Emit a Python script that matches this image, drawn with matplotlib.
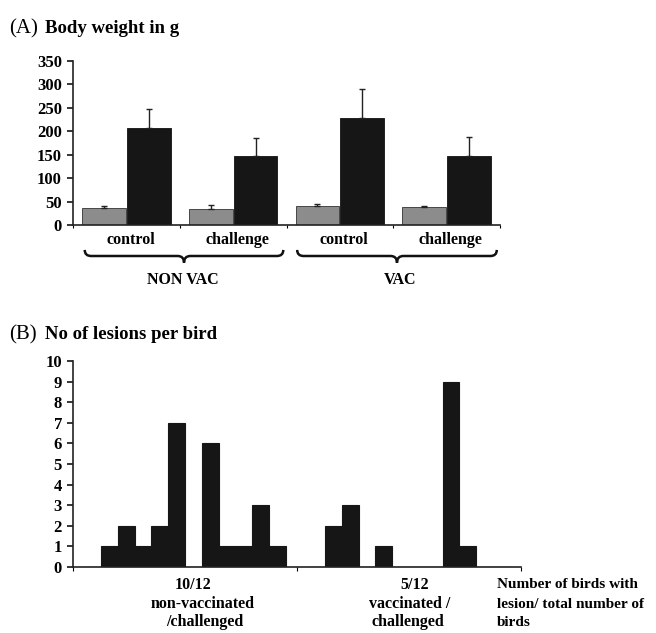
import matplotlib
matplotlib.use("Agg")
import matplotlib.pyplot as plt
import matplotlib.transforms as mtransforms
from matplotlib.path import Path
from matplotlib.patches import PathPatch

plt.rcParams['font.family'] = ['Liberation Serif', 'DejaVu Serif']

# (A) body weight
groups = ["control", "challenge", "control", "challenge"]
w_start = [36, 35, 41, 38]          # grey bars
w_start_err = [5, 8, 3, 3]
w_end = [207, 147, 228, 147]         # black bars
w_end_err = [40, 38, 62, 41]
vac_labels = ["NON VAC", "VAC"]

# (B) lesions per bird, 12 birds per group
lesions_nonvac = [0, 1, 2, 1, 2, 7, 0, 6, 1, 1, 3, 1]
lesions_vac = [0, 2, 3, 0, 1, 0, 0, 0, 9, 1, 0, 0]
b_groups = [["10/12", "non-vaccinated", "/challenged"],
            ["5/12", "vaccinated /", "challenged"]]
b_note = ["Number of birds with", "lesion/ total number of", "birds"]

GREY = "#8c8c8c"
BLACK = "#161616"
W, H = 656, 633

fig = plt.figure(figsize=(W / 100, H / 100), dpi=100)


def fx(px):
    return px / W


def fy(py):
    return 1 - py / H


def style_axes(ax):
    for s in ["top", "right"]:
        ax.spines[s].set_visible(False)
    for s in ["left", "bottom"]:
        ax.spines[s].set_linewidth(1.2)
        ax.spines[s].set_color("#222222")
    ax.tick_params(axis="y", direction="out", length=4, width=1.1, pad=4,
                   labelsize=12)
    for t in ax.get_yticklabels():
        t.set_fontweight("bold")


def brace(ax, x0, x1, ytop, yline, ytip):
    tr = mtransforms.blended_transform_factory(ax.transData, ax.transAxes)
    xc = (x0 + x1) / 2
    r = 0.06
    verts = [(x0, ytop), (x0, yline), (x0 + r, yline),
             (xc - r, yline), (xc, yline), (xc, ytip),
             (xc, yline), (xc + r, yline),
             (x1 - r, yline), (x1, yline), (x1, ytop)]
    codes = [Path.MOVETO, Path.CURVE3, Path.CURVE3,
             Path.LINETO, Path.CURVE3, Path.CURVE3,
             Path.CURVE3, Path.CURVE3,
             Path.LINETO, Path.CURVE3, Path.CURVE3]
    ax.add_patch(PathPatch(Path(verts, codes), facecolor="none",
                           edgecolor="#111111", lw=1.8, transform=tr,
                           clip_on=False))


# ---- panel A ----
ax1 = fig.add_axes([fx(73), fy(225), fx(500 - 73), (225 - 61) / H])
x = list(range(len(groups)))
bw = 0.41
ax1.bar([i - 0.21 for i in x], w_start, bw, color=GREY, edgecolor="#333333",
        lw=0.6, yerr=[[0] * 4, w_start_err], capsize=2.5,
        error_kw=dict(ecolor="#222222", elinewidth=1, capthick=1))
ax1.bar([i + 0.21 for i in x], w_end, bw, color=BLACK, edgecolor="#111111",
        lw=0.6, yerr=[[0] * 4, w_end_err], capsize=2.5,
        error_kw=dict(ecolor="#222222", elinewidth=1, capthick=1))
ax1.set_xlim(-0.5, 3.5)
ax1.set_ylim(0, 350)
ax1.set_yticks(range(0, 351, 50))
ax1.set_xticks([i + 0.5 for i in range(-1, 4)])
ax1.set_xticklabels([])
ax1.tick_params(axis="x", direction="out", length=2, width=0.8)
style_axes(ax1)
for i, g in enumerate(groups):
    ax1.text(i + 0.04, -0.09, g, transform=mtransforms.blended_transform_factory(
        ax1.transData, ax1.transAxes), ha="center", va="center",
        fontsize=11.5, fontweight="bold")
brace(ax1, -0.39, 1.47, -0.152, -0.189, -0.23)
brace(ax1, 1.6, 3.47, -0.152, -0.189, -0.23)
fig.text(fx(183), fy(280), vac_labels[0], ha="center", va="center",
         fontsize=11.5, fontweight="bold")
fig.text(fx(400), fy(280), vac_labels[1], ha="center", va="center",
         fontsize=11.5, fontweight="bold")

fig.text(fx(9), fy(33), "(A)", fontsize=15, va="baseline")
fig.text(fx(45), fy(33), "Body weight in g", fontsize=13.5,
         fontweight="bold", va="baseline")

# ---- panel B ----
ax2 = fig.add_axes([fx(73), fy(567), fx(521 - 73), (567 - 361) / H])
n = len(lesions_nonvac)
sw = 0.9 / n
for c, vals in enumerate([lesions_nonvac, lesions_vac]):
    pos = [c + (j - (n - 1) / 2) * sw for j in range(n)]
    ax2.bar(pos, vals, sw, color=BLACK, edgecolor=BLACK, lw=0.8)
ax2.set_xlim(-0.5, 1.5)
ax2.set_ylim(0, 10)
ax2.set_yticks(range(0, 11))
ax2.set_xticks([-0.5, 0.5, 1.5])
ax2.set_xticklabels([])
ax2.tick_params(axis="x", direction="out", length=3, width=0.8)
style_axes(ax2)

line_y = [585, 604, 622]
b_x = [[193, 203, 205], [415, 410, 408]]
for g, lines in enumerate(b_groups):
    for k, t in enumerate(lines):
        fig.text(fx(b_x[g][k]), fy(line_y[k]), t, ha="center", va="center",
                 fontsize=11.5, fontweight="bold")
for k, t in enumerate(b_note):
    fig.text(fx(497), fy(line_y[k]), t, ha="left", va="center",
             fontsize=11, fontweight="bold")

fig.text(fx(9), fy(339), "(B)", fontsize=15, va="baseline")
fig.text(fx(45), fy(339), "No of lesions per bird", fontsize=13.5,
         fontweight="bold", va="baseline")

fig.savefig("out.png", dpi=100)
